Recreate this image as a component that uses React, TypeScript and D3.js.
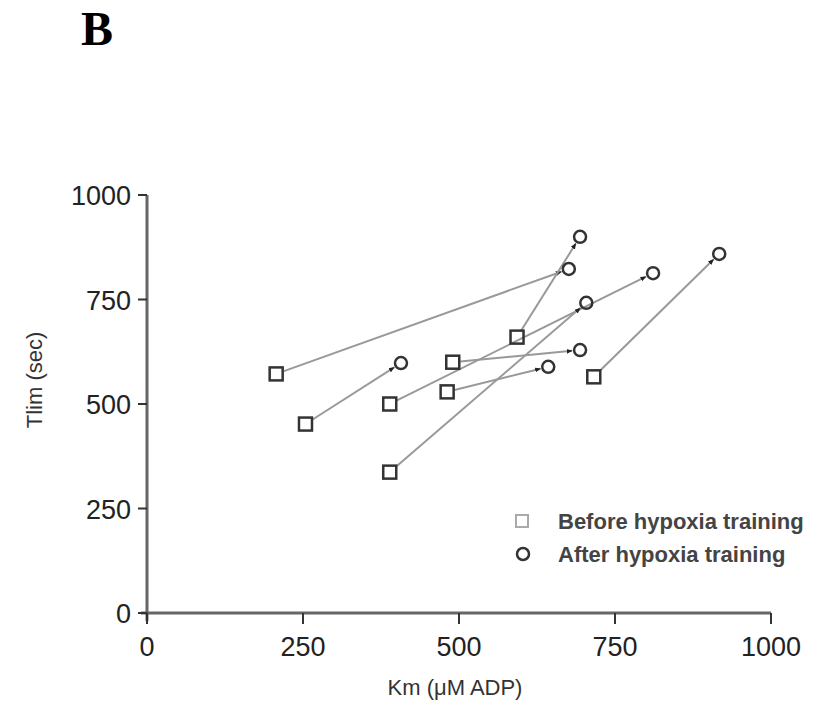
import React from 'react';
import { scaleLinear } from 'd3';

const width = 822;
const height = 704;

// Km (uM ADP) and Tlim (sec), before -> after hypoxia training, one entry per subject
const beforeKm = [207, 254, 389, 389, 490, 481, 593, 716];
const beforeTlim = [572, 452, 500, 337, 600, 529, 660, 565];
const afterKm = [676, 407, 811, 704, 694, 643, 694, 917];
const afterTlim = [823, 598, 813, 742, 629, 589, 900, 859];

const xTicks = [0, 250, 500, 750, 1000];
const yTicks = [0, 250, 500, 750, 1000];
const legendLabels = ['Before hypoxia training', 'After hypoxia training'];

const x = scaleLinear().domain([0, 1000]).range([147, 771]);
const y = scaleLinear().domain([0, 1000]).range([613, 195]);

const sq = 13;
const rad = 6;
const axisColor = '#666';
const font = 'Liberation Sans, Arial, sans-serif';

export default function App() {
    const pairs = beforeKm.map((km, i) => {
        const x1 = x(km), y1 = y(beforeTlim[i]);
        const x2 = x(afterKm[i]), y2 = y(afterTlim[i]);
        const len = Math.hypot(x2 - x1, y2 - y1);
        const ux = (x2 - x1) / len, uy = (y2 - y1) / len;
        const s = sq / 2 + 1;
        const e = rad + 2;
        return { x1, y1, x2, y2, sx: x1 + ux * s, sy: y1 + uy * s, ex: x2 - ux * e, ey: y2 - uy * e };
    });

    return (
        <svg width={width} height={height} style={{ position: 'absolute', left: 0, top: 0, background: '#fff' }}>
            <defs>
                <marker id="arr" viewBox="0 0 10 10" refX="9" refY="5" markerWidth="6" markerHeight="6" orient="auto" markerUnits="userSpaceOnUse">
                    <path d="M0,1 L10,5 L0,9 Z" fill="#222" />
                </marker>
            </defs>

            <text x={81} y={45} fontFamily="Liberation Serif, Times New Roman, serif" fontWeight="bold" fontSize={48} fill="#000">B</text>

            {/* axes */}
            <line x1={x(0)} y1={y(1000)} x2={x(0)} y2={y(0) + 8} stroke={axisColor} strokeWidth={3} />
            <line x1={x(0) - 6} y1={y(0)} x2={x(1000)} y2={y(0)} stroke={axisColor} strokeWidth={3} />
            {xTicks.map(t => (
                <g key={'x' + t}>
                    <line x1={x(t)} x2={x(t)} y1={y(0)} y2={y(0) + 11} stroke="#333" strokeWidth={2} />
                    <text x={x(t)} y={656} textAnchor="middle" fontFamily={font} fontSize={27} fill="#222">{t}</text>
                </g>
            ))}
            {yTicks.map(t => (
                <g key={'y' + t}>
                    <line x1={x(0) - 9} x2={x(0)} y1={y(t)} y2={y(t)} stroke="#333" strokeWidth={2} />
                    <text x={131} y={y(t) + 10} textAnchor="end" fontFamily={font} fontSize={27} fill="#222">{t}</text>
                </g>
            ))}
            <text x={455} y={695} textAnchor="middle" fontFamily={font} fontSize={22} fill="#333">Km (μM ADP)</text>
            <text transform={`translate(42,380) rotate(-90)`} textAnchor="middle" fontFamily={font} fontSize={22} fill="#333">Tlim (sec)</text>

            {/* connecting arrows */}
            {pairs.map((p, i) => (
                <line key={'l' + i} x1={p.sx} y1={p.sy} x2={p.ex} y2={p.ey} stroke="#999" strokeWidth={2} markerEnd="url(#arr)" />
            ))}
            {pairs.map((p, i) => (
                <rect key={'s' + i} x={p.x1 - sq / 2} y={p.y1 - sq / 2} width={sq} height={sq} fill="none" stroke="#333" strokeWidth={2.5} />
            ))}
            {pairs.map((p, i) => (
                <circle key={'c' + i} cx={p.x2} cy={p.y2} r={rad} fill="none" stroke="#333" strokeWidth={2.5} />
            ))}

            {/* legend */}
            <rect x={522 - 6} y={521 - 6} width={12} height={12} fill="none" stroke="#aaa" strokeWidth={2} />
            <text x={558} y={529} fontFamily={font} fontSize={22} fontWeight="bold" fill="#444">{legendLabels[0]}</text>
            <circle cx={523} cy={554} r={6} fill="none" stroke="#333" strokeWidth={2.5} />
            <text x={558} y={562} fontFamily={font} fontSize={22} fontWeight="bold" fill="#444">{legendLabels[1]}</text>
        </svg>
    );
}
